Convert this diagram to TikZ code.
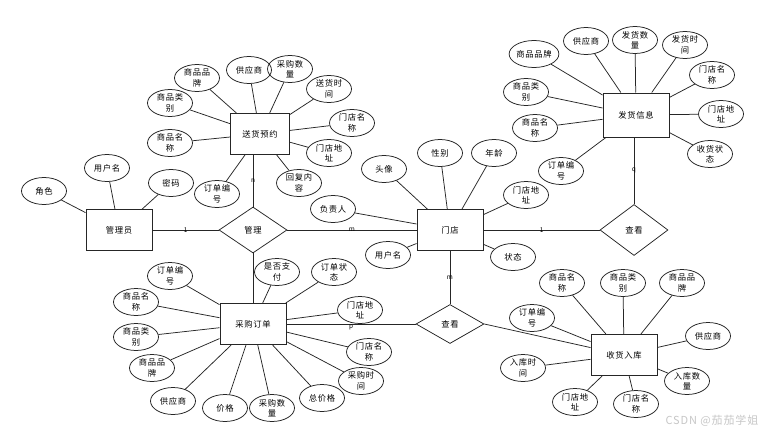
\documentclass[tikz,border=0pt]{standalone}
\usepackage{fontspec}
\setmainfont{Noto Sans CJK SC}[LetterSpace=8]
\usetikzlibrary{shapes.geometric}

\tikzset{
  attr/.style={draw, ellipse, minimum width=45pt, minimum height=27pt, inner sep=0pt, align=center, font=\fontsize{8.3}{10.5}\selectfont},
  entity/.style={draw, line width=1pt, rectangle, minimum width=66pt, minimum height=41pt, font=\fontsize{8.3}{10}\selectfont},
  rel/.style={draw, diamond, minimum width=68pt, minimum height=46pt, inner sep=0pt, font=\fontsize{8.3}{10}\selectfont},
  card/.style={font=\fontsize{6.5}{6.5}\selectfont, inner sep=0.5pt},
}

\begin{document}
\begin{tikzpicture}[x=1pt, y=-1pt, line width=0.75pt, draw=black!85]
\useasboundingbox[fill=white] (0,0) rectangle (775,434);
%---------------------------------------------------
\node[entity] (admin) at (119,230) {管理员};
\node[entity, minimum width=59pt] (sdyy) at (260,134) {送货预约};
\node[entity, minimum height=44pt] (fhxx) at (636,115) {发货信息};
\node[entity] (store) at (450,230) {门店};
\node[entity] (cgdd) at (253,324) {采购订单};
\node[entity] (shrk) at (624,355) {收货入库};
%---------------------------------------------------
\node[rel] (manage) at (253,230) {管理};
\node[rel, minimum height=51pt] (viewR) at (634,230) {查看};
\node[rel, minimum height=39pt] (viewB) at (450,324) {查看};
%---------------------------------------------------
\draw (admin) -- node[card] (c1) {1} (manage);
\draw (manage) -- node[card] (c2) {m} (store);
\draw (manage.north) -- node[card] (c3) {n} (manage.north |- sdyy.south);
\draw (manage) -- (cgdd);
\draw (store) -- node[card] (c4) {1} (viewR);
\draw (viewR.north) -- node[card] (c5) {q} (viewR.north |- fhxx.south);
\draw (store) -- node[card] (c6) {m} (viewB);
\draw (cgdd) -- node[card, yshift=-3pt] (c7) {p} (viewB);
\draw (viewB.east) -- (shrk);
%--------------------------------------------------- admin
\node[attr] (adRole) at (44,191) {角色};
\node[attr] (adUser) at (107,168) {用户名};
\node[attr] (adPwd) at (171,183) {密码};
\draw (adRole) -- (admin);
\draw (adUser) -- (admin);
\draw (adPwd) -- (admin);
%--------------------------------------------------- sdyy
\node[attr] (sdBrand) at (197,78) {商品品\\牌};
\node[attr] (sdSupp) at (249,70) {供应商};
\node[attr] (sdQty) at (290,69) {采购数\\量};
\node[attr] (sdTime) at (329,89) {送货时\\间};
\node[attr] (sdSName) at (352,123) {门店名\\称};
\node[attr] (sdSAddr) at (329,153) {门店地\\址};
\node[attr] (sdReply) at (299,183) {回复内\\容};
\node[attr] (sdOrder) at (217,194) {订单编\\号};
\node[attr] (sdName) at (170,143) {商品名\\称};
\node[attr] (sdType) at (170,103) {商品类\\别};
\draw (sdBrand) -- (sdyy);
\draw (sdSupp) -- (sdyy);
\draw (sdQty) -- (sdyy);
\draw (sdTime) -- (sdyy);
\draw (sdSName) -- (sdyy);
\draw (sdSAddr) -- (sdyy);
\draw (sdReply) -- (sdyy);
\draw (sdOrder) -- (sdyy);
\draw (sdName) -- (sdyy);
\draw (sdType) -- (sdyy);
%--------------------------------------------------- fhxx
\node[attr] (fhBrand) at (534,54) {商品品牌};
\node[attr] (fhSupp) at (586,41) {供应商};
\node[attr] (fhQty) at (635,40) {发货数\\量};
\node[attr] (fhTime) at (685,45) {发货时\\间};
\node[attr] (fhSName) at (712,75) {门店名\\称};
\node[attr] (fhSAddr) at (721,114) {门店地\\址};
\node[attr] (fhState) at (710,154) {收货状\\态};
\node[attr] (fhOrder) at (561,171) {订单编\\号};
\node[attr] (fhName) at (535,128) {商品名\\称};
\node[attr] (fhType) at (526,92) {商品类\\别};
\draw (fhBrand) -- (fhxx);
\draw (fhSupp) -- (fhxx);
\draw (fhQty) -- (fhxx);
\draw (fhTime) -- (fhxx);
\draw (fhSName) -- (fhxx);
\draw (fhSAddr) -- (fhxx);
\draw (fhState) -- (fhxx);
\draw (fhOrder) -- (fhxx);
\draw (fhName) -- (fhxx);
\draw (fhType) -- (fhxx);
%--------------------------------------------------- store
\node[attr] (stPhoto) at (384,169) {头像};
\node[attr] (stSex) at (440,153) {性别};
\node[attr] (stAge) at (494,153) {年龄};
\node[attr] (stAddr) at (526,195) {门店地\\址};
\node[attr] (stState) at (513,257) {状态};
\node[attr] (stUser) at (388,255) {用户名};
\node[attr] (stBoss) at (333,209) {负责人};
\draw (stPhoto) -- (store);
\draw (stSex) -- (store);
\draw (stAge) -- (store);
\draw (stAddr) -- (store);
\draw (stState) -- (store);
\draw (stUser) -- (store);
\draw (stBoss) -- (store);
%--------------------------------------------------- cgdd
\node[attr] (cgOrder) at (170,276) {订单编\\号};
\node[attr] (cgName) at (136,302) {商品名\\称};
\node[attr] (cgType) at (136,337) {商品类\\别};
\node[attr] (cgBrand) at (152,368) {商品品\\牌};
\node[attr] (cgSupp) at (173,401) {供应商};
\node[attr] (cgPrice) at (225,408) {价格};
\node[attr] (cgQty) at (272,408) {采购数\\量};
\node[attr] (cgTotal) at (322,398) {总价格};
\node[attr] (cgTime) at (361,381) {采购时\\间};
\node[attr] (cgSName) at (369,352) {门店名\\称};
\node[attr] (cgSAddr) at (360,310) {门店地\\址};
\node[attr] (cgState) at (334,272) {订单状\\态};
\node[attr] (cgPaid) at (277,272) {是否支\\付};
\draw (cgOrder) -- (cgdd);
\draw (cgName) -- (cgdd);
\draw (cgType) -- (cgdd);
\draw (cgBrand) -- (cgdd);
\draw (cgSupp) -- (cgdd);
\draw (cgPrice) -- (cgdd);
\draw (cgQty) -- (cgdd);
\draw (cgTotal) -- (cgdd);
\draw (cgTime) -- (cgdd);
\draw (cgSName) -- (cgdd);
\draw (cgSAddr) -- (cgdd);
\draw (cgState) -- (cgdd);
\draw (cgPaid) -- (cgdd);
%--------------------------------------------------- shrk
\node[attr] (shName) at (562,283) {商品名\\称};
\node[attr] (shType) at (623,283) {商品类\\别};
\node[attr] (shBrand) at (682,283) {商品品\\牌};
\node[attr] (shSupp) at (708,336) {供应商};
\node[attr] (shQty) at (687,381) {入库数\\量};
\node[attr] (shSName) at (636,404) {门店名\\称};
\node[attr] (shSAddr) at (575,402) {门店地\\址};
\node[attr] (shTime) at (523,368) {入库时\\间};
\node[attr] (shOrder) at (532,318) {订单编\\号};
\draw (shName) -- (shrk);
\draw (shType) -- (shrk);
\draw (shBrand) -- (shrk);
\draw (shSupp) -- (shrk);
\draw (shQty) -- (shrk);
\draw (shSName) -- (shrk);
\draw (shSAddr) -- (shrk);
\draw (shTime) -- (shrk);
\draw (shOrder) -- (shrk);
%---------------------------------------------------
\node[text=black!22, font=\fontsize{11}{11}\selectfont] (mark) at (712,421) {CSDN @茄茄学姐};
\end{tikzpicture}
\end{document}
